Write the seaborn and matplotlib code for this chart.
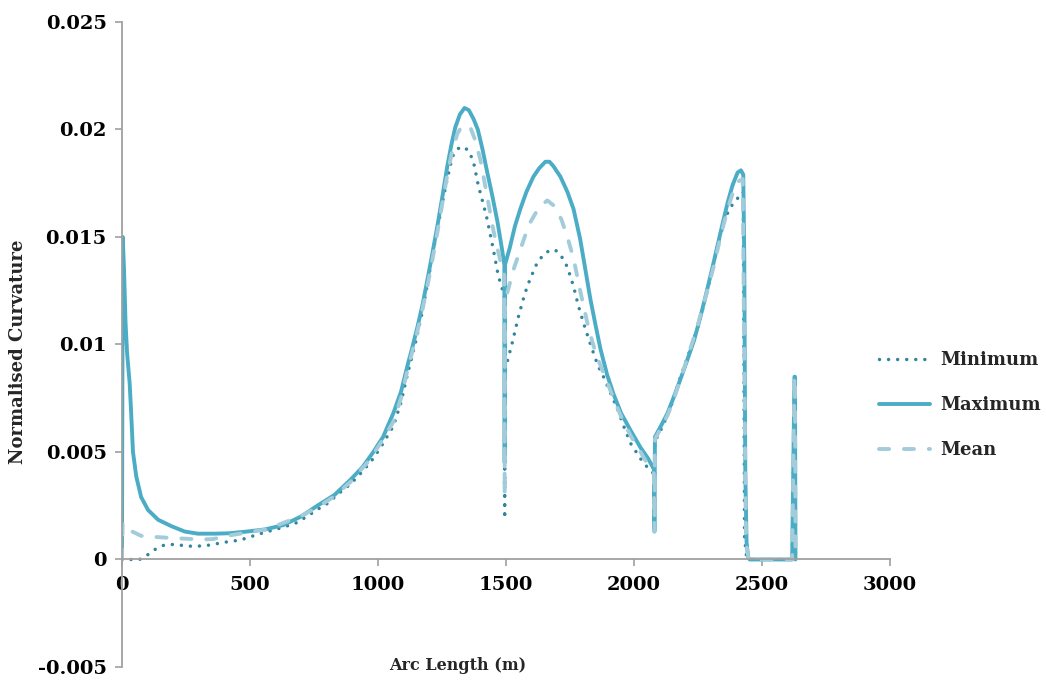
import numpy as np
import pandas as pd
import seaborn as sns
import matplotlib
matplotlib.use("Agg")
import matplotlib.pyplot as plt
from matplotlib.lines import Line2D

# ---------------- data ----------------
max_x = [0, 3, 8, 14, 20, 30, 36, 43, 56, 75, 102, 141, 193, 245, 297, 362, 420,
         489, 560, 630, 700, 763, 830, 892, 940, 982, 1020, 1060, 1090, 1115, 1135,
         1154, 1175, 1193, 1212, 1232, 1252, 1271, 1287, 1302, 1320, 1338, 1355,
         1373, 1390, 1408, 1427, 1447, 1467, 1485, 1494, 1495, 1496, 1515, 1535,
         1556, 1580, 1607, 1630, 1654, 1670, 1685, 1713, 1740, 1764, 1790, 1810,
         1830, 1850, 1869, 1895, 1920, 1950, 1987, 2026, 2055, 2078, 2080, 2082,
         2105, 2131, 2157, 2182, 2209, 2235, 2260, 2285, 2311, 2340, 2366, 2385,
         2405, 2418, 2427, 2431, 2435, 2440, 2446, 2452, 2618, 2627, 2629, 2631]
max_y = [0, 0.0150, 0.0135, 0.0110, 0.0096, 0.0082, 0.0068, 0.0050, 0.00385,
         0.0029, 0.0023, 0.00185, 0.00155, 0.0013, 0.0012, 0.0012, 0.00122,
         0.0013, 0.0014, 0.0016, 0.0020, 0.0025, 0.0030, 0.0037, 0.0043, 0.0050,
         0.0057, 0.0068, 0.0078, 0.0090, 0.0099, 0.0108, 0.0119, 0.0130, 0.0142,
         0.0155, 0.0169, 0.0183, 0.0193, 0.0201, 0.0207, 0.0210, 0.0209, 0.0205,
         0.0200, 0.0191, 0.0180, 0.0169, 0.0157, 0.0144, 0.0137, 0.0045, 0.0137,
         0.0145, 0.0155, 0.0163, 0.0171, 0.0178, 0.0182, 0.0185, 0.0185, 0.0183,
         0.0178, 0.0171, 0.0163, 0.0149, 0.0135, 0.0121, 0.0109, 0.0098, 0.0086,
         0.0077, 0.0068, 0.0060, 0.0052, 0.0047, 0.0042, 0.0013, 0.0057, 0.0062,
         0.0068, 0.0076, 0.0084, 0.0093, 0.0102, 0.0113, 0.0125, 0.0138, 0.0153,
         0.0166, 0.0174, 0.0180, 0.0181, 0.0179, 0.0140, 0.0040, 0.0008, 0.0001,
         0.0, 0.0, 0.0085, 0.0085, 0.0]

min_x = [0, 36, 69, 102, 128, 160, 193, 232, 265, 297, 336, 369, 400, 461, 540,
         630, 680, 723, 760, 802, 850, 892, 940, 982, 1020, 1060, 1090, 1115, 1145,
         1173, 1190, 1205, 1220, 1236, 1252, 1267, 1282, 1294, 1310, 1334, 1355,
         1373, 1392, 1410, 1427, 1451, 1470, 1490, 1494, 1495, 1496, 1505, 1525,
         1549, 1565, 1583, 1600, 1622, 1648, 1674, 1690, 1705, 1722, 1740, 1764,
         1783, 1803, 1822, 1842, 1860, 1881, 1910, 1936, 1960, 1987, 2025, 2065,
         2078, 2080, 2082, 2100, 2116, 2150, 2182, 2215, 2249, 2270, 2288, 2308,
         2327, 2343, 2358, 2373, 2390, 2405, 2418, 2427, 2432, 2440, 2450, 2618,
         2627, 2629, 2631]
min_y = [0, 0, 0, 0.00023, 0.00046, 0.00065, 0.0007, 0.00066, 0.00062, 0.00062,
         0.00066, 0.00073, 0.0008, 0.0009, 0.0012, 0.0015, 0.0017, 0.0020, 0.0023,
         0.0026, 0.0031, 0.0035, 0.0041, 0.0047, 0.0054, 0.0062, 0.0073, 0.0086,
         0.0100, 0.0115, 0.0126, 0.0136, 0.0146, 0.0156, 0.0166, 0.0175, 0.0183,
         0.0188, 0.0191, 0.0192, 0.0190, 0.0185, 0.0174, 0.0166, 0.0158, 0.0144,
         0.0132, 0.0124, 0.0124, 0.0019, 0.0088, 0.0092, 0.0101, 0.0113, 0.0120,
         0.0127, 0.0132, 0.0138, 0.0142, 0.0144, 0.0144, 0.0143, 0.0140, 0.0136,
         0.0127, 0.0118, 0.0110, 0.0103, 0.0096, 0.0090, 0.0085, 0.0077, 0.0070,
         0.0062, 0.0054, 0.0047, 0.0041, 0.0040, 0.0013, 0.0055, 0.0059, 0.0063,
         0.0073, 0.0085, 0.0096, 0.0108, 0.0117, 0.0126, 0.0136, 0.0146, 0.0153,
         0.0159, 0.0163, 0.0166, 0.0168, 0.0170, 0.0171, 0.0010, 0.0001, 0.0, 0.0,
         0.0085, 0.0085, 0.0]

mean_x = [0, 3, 40, 75, 128, 193, 309, 356, 410, 461, 510, 567, 630, 696, 760,
          825, 892, 958, 1010, 1060, 1090, 1115, 1135, 1154, 1175, 1193, 1212,
          1232, 1252, 1271, 1290, 1310, 1325, 1340, 1361, 1380, 1400, 1425, 1451,
          1470, 1486, 1494, 1495, 1496, 1505, 1530, 1556, 1576, 1596, 1630, 1662,
          1693, 1717, 1740, 1764, 1790, 1818, 1838, 1857, 1880, 1897, 1930, 1959,
          1990, 2026, 2055, 2078, 2080, 2082, 2105, 2131, 2157, 2182, 2215, 2249,
          2280, 2311, 2340, 2366, 2390, 2410, 2425, 2432, 2438, 2448, 2618, 2627,
          2629, 2631]
mean_y = [0, 0.0017, 0.0013, 0.0011, 0.00105, 0.0010, 0.00093, 0.00095, 0.0011,
          0.0012, 0.0013, 0.0014, 0.0017, 0.0020, 0.0024, 0.0029, 0.0036, 0.0045,
          0.0054, 0.0064, 0.0075, 0.0088, 0.0097, 0.0106, 0.0117, 0.0127, 0.0139,
          0.0152, 0.0166, 0.0179, 0.0190, 0.0198, 0.0201, 0.0202, 0.0201, 0.0195,
          0.0186, 0.0170, 0.0153, 0.0143, 0.0135, 0.0132, 0.0030, 0.0118, 0.0124,
          0.0135, 0.0144, 0.0151, 0.0157, 0.0164, 0.0167, 0.0164, 0.0158, 0.0150,
          0.0140, 0.0125, 0.0110, 0.0101, 0.0094, 0.0087, 0.0082, 0.0072, 0.0064,
          0.0057, 0.0050, 0.0044, 0.0040, 0.0013, 0.0056, 0.0061, 0.0067, 0.0075,
          0.0084, 0.0096, 0.0109, 0.0122, 0.0136, 0.0151, 0.0163, 0.0172, 0.0176,
          0.0177, 0.0080, 0.0008, 0.0, 0.0, 0.0085, 0.0085, 0.0]

series_names = ["Minimum", "Maximum", "Mean"]
x_ticks = [0, 500, 1000, 1500, 2000, 2500, 3000]
y_ticks = [-0.005, 0, 0.005, 0.01, 0.015, 0.02, 0.025]
y_tick_labels = ["-0.005", "0", "0.005", "0.01", "0.015", "0.02", "0.025"]

# ---------------- styling ----------------
sns.set_theme(style="white")
plt.rcParams["font.family"] = ["DejaVu Serif", "DejaVu Sans"]
plt.rcParams["font.weight"] = "bold"

c_min = "#31859C"
c_max = "#4BACC6"
c_mean = "#A3CCDA"
styles = {
    "Minimum": dict(color=c_min, lw=2.5, ls=(0, (0.01, 2.6)), cap="round"),
    "Maximum": dict(color=c_max, lw=2.8, ls="-", cap="round"),
    "Mean": dict(color=c_mean, lw=2.8, ls=(0, (2.6, 3.8)), cap="round"),
}

fig = plt.figure(figsize=(10.46, 6.81), dpi=100)
ax = fig.add_axes([0.1166, 0.0206, 0.8508 - 0.1166, 0.9677 - 0.0206])

data = {
    "Minimum": (min_x, min_y),
    "Maximum": (max_x, max_y),
    "Mean": (mean_x, mean_y),
}
for name in series_names:
    xs, ys = data[name]
    df = pd.DataFrame({"x": xs, "y": ys})
    st = styles[name]
    sns.lineplot(data=df, x="x", y="y", ax=ax, sort=False, estimator=None,
                 color=st["color"], linewidth=st["lw"], linestyle=st["ls"],
                 dash_capstyle=st["cap"], solid_capstyle="round",
                 solid_joinstyle="round", legend=False)

ax.set_xlim(0, 3000)
ax.set_ylim(-0.005, 0.025)
ax.set_xticks(x_ticks)
ax.set_xticklabels([str(t) for t in x_ticks])
ax.set_yticks(y_ticks)
ax.set_yticklabels(y_tick_labels)

for s in ["top", "right"]:
    ax.spines[s].set_visible(False)
ax.spines["bottom"].set_position(("data", 0))
ax.spines["left"].set_position(("data", 0))
for s in ["bottom", "left"]:
    ax.spines[s].set_color("#A0A0A0")
    ax.spines[s].set_linewidth(1.3)

ax.tick_params(axis="both", which="both", direction="out", length=5, width=1.2,
               color="#A0A0A0", labelsize=14, labelcolor="black")
ax.tick_params(axis="x", bottom=True, pad=7)
ax.tick_params(axis="y", left=True, pad=6)
for lbl in ax.get_xticklabels() + ax.get_yticklabels():
    lbl.set_fontweight("bold")

ax.set_xlabel("")
ax.set_ylabel("")
fig.text(458 / 1046, 1 - 665 / 681, "Arc Length (m)", ha="center", va="center",
         fontsize=11.5, fontweight="bold")
fig.text(18 / 1046, 1 - 352 / 681, "Normalised Curvature", ha="center",
         va="center", rotation=90, fontsize=13, fontweight="bold")

handles = []
for name in series_names:
    st = styles[name]
    handles.append(Line2D([], [], color=st["color"], linewidth=st["lw"],
                          linestyle=st["ls"], dash_capstyle=st["cap"],
                          solid_capstyle="round"))
leg = fig.legend(handles, series_names, loc="center left",
                 bbox_to_anchor=(872 / 1046, 1 - 405 / 681), frameon=False,
                 fontsize=13, handlelength=2.8, handletextpad=0.6,
                 labelspacing=1.5, borderaxespad=0)
for t in leg.get_texts():
    t.set_fontweight("bold")

fig.savefig("out.png", dpi=100)
